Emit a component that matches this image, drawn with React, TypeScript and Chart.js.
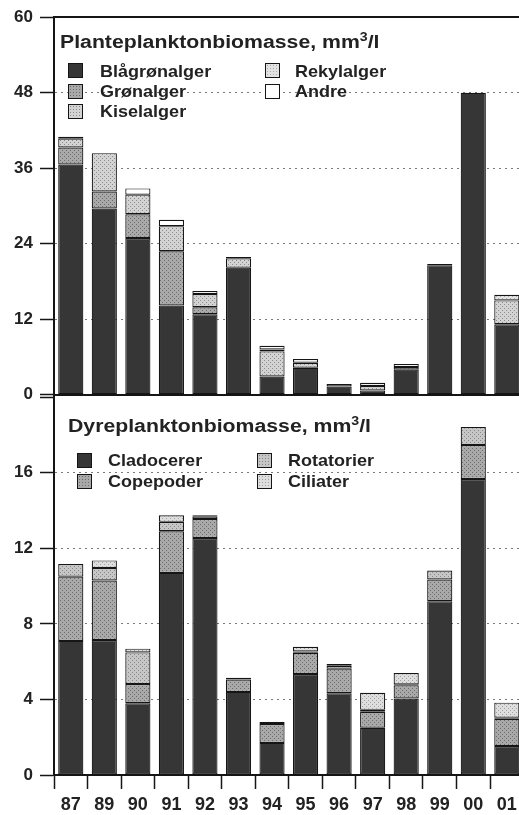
import React, { useEffect, useRef } from "react";
import { Chart, registerables } from "chart.js";
Chart.register(...registerables);

// ---------- data ----------
const years = ["87", "89", "90", "91", "92", "93", "94", "95", "96", "97", "98", "99", "00", "01"];

// Planteplankton (mm3/l)
const blagronalger = [36.6, 29.6, 24.9, 14.2, 12.8, 20.2, 2.9, 4.3, 1.3, 0.7, 4.0, 20.6, 48.0, 11.2];
const gronalger = [2.7, 2.7, 3.8, 8.6, 1.1, null, null, null, 0.4, null, null, null, null, null];
const kiselalger = [1.4, 6.1, 3.1, 4.0, 2.1, 1.5, 4.0, 0.8, null, 0.7, 0.4, 0.2, null, 3.8];
const rekylalger = [null, null, null, null, null, null, 0.3, null, null, null, null, null, null, 0.9];
const andre = [0.3, null, 1.0, 1.0, 0.5, 0.2, 0.6, 0.6, null, 0.5, 0.5, null, null, null];

// Dyreplankton (mm3/l)
const cladocerer = [7.1, 7.15, 3.8, 10.7, 12.55, 4.4, 1.7, 5.35, 4.33, 2.5, 4.05, 9.2, 15.67, 1.53];
const copepoder = [3.4, 3.15, 1.02, 2.2, 1.0, 0.65, 1.0, 1.12, 1.3, 0.85, 0.7, 1.15, 1.8, 1.45];
const rotatorier = [0.67, 0.66, 1.67, 0.5, 0.15, 0.1, 0.1, 0.07, 0.15, 0.1, 0.05, 0.47, 0.95, 0.05];
const ciliater = [null, 0.4, 0.2, 0.35, 0.05, null, null, 0.25, 0.1, 0.9, 0.6, null, null, 0.8];

const plantMax = 60;
const plantStep = 12;
const dyrMax = 20;
const dyrStep = 4;

// ---------- style ----------
const FONT = "'Liberation Sans', Arial, Helvetica, sans-serif";
const INK = "#151515";
const TXT = "#222";

const fills = {
  dark: { base: "#363636", dot: "#363636" },
  gron: { base: "#a9a9a9", dot: "#6c6c6c" },
  kisel: { base: "#d3d3d3", dot: "#8c8c8c" },
  rekyl: { base: "#e3e3e3", dot: "#a8a8a8" },
  andre: { base: "#ffffff", dot: "#ffffff" },
  cope: { base: "#a9a9a9", dot: "#6c6c6c" },
  rota: { base: "#c6c6c6", dot: "#888888" },
  cil: { base: "#dedede", dot: "#a0a0a0" },
};

function stipple(f: { base: string; dot: string }): any {
  const c = document.createElement("canvas");
  c.width = 4;
  c.height = 4;
  const g = c.getContext("2d");
  if (!g) return f.base;
  g.fillStyle = f.base;
  g.fillRect(0, 0, 4, 4);
  g.fillStyle = f.dot;
  g.fillRect(0, 0, 1, 1);
  g.fillRect(2, 2, 1, 1);
  return g.createPattern(c, "repeat") || f.base;
}

function cssStipple(f: { base: string; dot: string }): React.CSSProperties {
  return {
    backgroundColor: f.base,
    backgroundImage: `radial-gradient(${f.dot} 0.6px, transparent 0.9px)`,
    backgroundSize: "3px 3px",
  };
}

function yScale(max: number, step: number, hideTop: boolean) {
  return {
    stacked: true,
    min: 0,
    max,
    ticks: {
      stepSize: step,
      color: TXT,
      padding: 7,
      font: { family: FONT, size: 17, weight: "bold" },
      callback: (v: any) => (hideTop && v === max ? "" : String(v)),
    },
    grid: {
      color: (ctx: any) =>
        ctx.tick && (ctx.tick.value === 0 || ctx.tick.value === max) ? "rgba(0,0,0,0)" : "#7a7a7a",
      lineWidth: 1,
      drawTicks: true,
      tickLength: 14,
      tickColor: INK,
      tickWidth: 1.5,
    },
    border: { display: true, color: INK, width: 2, dash: [2, 4] },
    afterFit: (s: any) => {
      s.width = 54;
    },
  };
}

const barDefaults = {
  barPercentage: 0.75,
  categoryPercentage: 1,
  borderWidth: 1.2,
  borderColor: INK,
  borderSkipped: false,
};

export default function App() {
  const topRef = useRef<HTMLCanvasElement>(null);
  const botRef = useRef<HTMLCanvasElement>(null);

  useEffect(() => {
    if (!topRef.current || !botRef.current) return;
    const top = new Chart(topRef.current, {
      type: "bar",
      data: {
        labels: years,
        datasets: [
          { label: "Blågrønalger", data: blagronalger, backgroundColor: fills.dark.base },
          { label: "Grønalger", data: gronalger, backgroundColor: stipple(fills.gron) },
          { label: "Kiselalger", data: kiselalger, backgroundColor: stipple(fills.kisel) },
          { label: "Rekylalger", data: rekylalger, backgroundColor: stipple(fills.rekyl) },
          { label: "Andre", data: andre, backgroundColor: fills.andre.base },
        ] as any,
      },
      options: {
        animation: false,
        responsive: false,
        maintainAspectRatio: false,
        devicePixelRatio: 1,
        layout: { padding: { left: 0, right: 6.4, top: 17, bottom: 15 } },
        plugins: { legend: { display: false }, tooltip: { enabled: false }, title: { display: false } },
        datasets: { bar: barDefaults as any },
        scales: {
          x: {
            stacked: true,
            position: "bottom",
            ticks: { display: false },
            grid: { display: false, drawTicks: false },
            border: { display: true, color: INK, width: 2 },
            afterFit: (s: any) => {
              s.height = 0;
            },
          },
          x2: {
            type: "category",
            position: "top",
            labels: years,
            ticks: { display: false },
            grid: { display: false, drawTicks: false },
            border: { display: true, color: INK, width: 2 },
            afterFit: (s: any) => {
              s.height = 0;
            },
          },
          y: yScale(plantMax, plantStep, false) as any,
        },
      } as any,
    });

    const bot = new Chart(botRef.current, {
      type: "bar",
      data: {
        labels: years,
        datasets: [
          { label: "Cladocerer", data: cladocerer, backgroundColor: fills.dark.base },
          { label: "Copepoder", data: copepoder, backgroundColor: stipple(fills.cope) },
          { label: "Rotatorier", data: rotatorier, backgroundColor: stipple(fills.rota) },
          { label: "Ciliater", data: ciliater, backgroundColor: stipple(fills.cil) },
        ] as any,
      },
      options: {
        animation: false,
        responsive: false,
        maintainAspectRatio: false,
        devicePixelRatio: 1,
        layout: { padding: { left: 0, right: 6.4, top: 16, bottom: 0 } },
        plugins: { legend: { display: false }, tooltip: { enabled: false }, title: { display: false } },
        datasets: { bar: barDefaults as any },
        scales: {
          x: {
            stacked: true,
            position: "bottom",
            ticks: {
              color: TXT,
              padding: 5,
              maxRotation: 0,
              autoSkip: false,
              font: { family: FONT, size: 18, weight: "bold" },
            },
            grid: {
              display: true,
              drawOnChartArea: false,
              drawTicks: true,
              offset: true,
              tickLength: 14,
              tickColor: INK,
              tickWidth: 1.5,
              color: INK,
            },
            border: { display: true, color: INK, width: 2 },
            afterFit: (s: any) => {
              s.height = 40;
            },
          },
          y: yScale(dyrMax, dyrStep, true) as any,
        },
      } as any,
    });

    return () => {
      top.destroy();
      bot.destroy();
    };
  }, []);

  const titleStyle: React.CSSProperties = {
    position: "absolute",
    fontFamily: FONT,
    fontWeight: "bold",
    fontSize: 18,
    lineHeight: "18px",
    color: TXT,
    whiteSpace: "nowrap",
    transform: "scaleX(1.18)",
    transformOrigin: "left top",
  };
  const legText: React.CSSProperties = {
    position: "absolute",
    fontFamily: FONT,
    fontWeight: "bold",
    fontSize: 17,
    lineHeight: "17px",
    color: TXT,
    whiteSpace: "nowrap",
    transform: "scaleX(1.06)",
    transformOrigin: "left top",
  };
  const box = (left: number, top: number, f: { base: string; dot: string }): React.CSSProperties => ({
    position: "absolute",
    left,
    top,
    width: 15,
    height: 15,
    boxSizing: "border-box",
    border: `1.5px solid ${INK}`,
    ...cssStipple(f),
  });
  const sup: React.CSSProperties = { fontSize: 12, position: "relative", top: -7, lineHeight: "0" };

  return (
    <div
      style={{
        position: "fixed",
        left: 0,
        top: 0,
        width: 519,
        height: 815,
        overflow: "hidden",
        background: "#fff",
      }}
    >
      <canvas ref={topRef} width={530} height={412} style={{ position: "absolute", left: 0, top: 0, display: "block" }} />
      <canvas ref={botRef} width={530} height={435} style={{ position: "absolute", left: 0, top: 380, display: "block" }} />

      {/* upper title + legend */}
      <div style={{ ...titleStyle, left: 60, top: 33 }}>
        Planteplanktonbiomasse, mm<span style={sup}>3</span>/l
      </div>
      <div style={box(68, 63, fills.dark)} />
      <div style={{ ...legText, left: 100, top: 63.3 }}>Blågrønalger</div>
      <div style={box(68, 84, fills.gron)} />
      <div style={{ ...legText, left: 100, top: 83.3 }}>Grønalger</div>
      <div style={box(68, 104, fills.kisel)} />
      <div style={{ ...legText, left: 100, top: 103.3 }}>Kiselalger</div>
      <div style={box(265, 63, fills.rekyl)} />
      <div style={{ ...legText, left: 295, top: 63.3 }}>Rekylalger</div>
      <div style={box(265, 84, fills.andre)} />
      <div style={{ ...legText, left: 295, top: 83.3 }}>Andre</div>

      {/* lower title + legend */}
      <div style={{ ...titleStyle, left: 68, top: 416.5 }}>
        Dyreplanktonbiomasse, mm<span style={sup}>3</span>/l
      </div>
      <div style={box(77, 452.5, fills.dark)} />
      <div style={{ ...legText, left: 108, top: 452.3 }}>Cladocerer</div>
      <div style={box(77, 474, fills.cope)} />
      <div style={{ ...legText, left: 108, top: 473 }}>Copepoder</div>
      <div style={box(257, 452.5, fills.rota)} />
      <div style={{ ...legText, left: 288, top: 452.3 }}>Rotatorier</div>
      <div style={box(257, 474, fills.cil)} />
      <div style={{ ...legText, left: 288, top: 473 }}>Ciliater</div>
    </div>
  );
}
